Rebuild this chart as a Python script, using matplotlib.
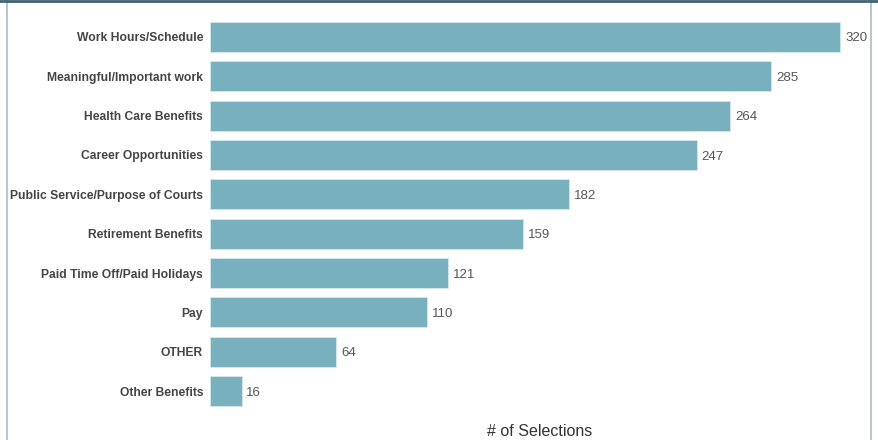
import matplotlib.pyplot as plt
from matplotlib.lines import Line2D

categories = ["Work Hours/Schedule", "Meaningful/Important work", "Health Care Benefits",
              "Career Opportunities", "Public Service/Purpose of Courts", "Retirement Benefits",
              "Paid Time Off/Paid Holidays", "Pay", "OTHER", "Other Benefits"]
counts = [320, 285, 264, 247, 182, 159, 121, 110, 64, 16]

plt.rcParams['font.family'] = ['Liberation Sans', 'DejaVu Sans']

fig = plt.figure(figsize=(8.79, 4.4), dpi=100)
ax = fig.add_axes([210/879, 1 - 414.6/440, 660/879, (414.6-13.4)/440])

y = list(range(len(categories)))
ax.barh(y, counts, height=0.76, color="#78b0be", edgecolor="#d6e8ec", linewidth=0.6)
for yi, v in zip(y, counts):
    ax.text(v + 2.5, yi, str(v), va="center_baseline", ha="left", fontsize=9.5, color="#555555")

ax.set_yticks(y)
ax.set_yticklabels(categories, fontsize=8.7, fontweight="bold", color="#444444")
ax.tick_params(axis="y", length=0, pad=5)
ax.set_xticks([])
ax.set_ylim(9.6, -0.6)
ax.set_xlim(0, 335)
for s in ax.spines.values():
    s.set_visible(False)

fig.text(540/879, 1 - 431/440, "# of Selections", ha="center", va="center",
         fontsize=11.5, color="#333333")

# frame around the panel
fig.add_artist(Line2D([7/879, 7/879], [0, 1], transform=fig.transFigure, color="#a9bcc0", lw=1.2))
fig.add_artist(Line2D([871/879, 871/879], [0, 1], transform=fig.transFigure, color="#a9bcc0", lw=1.2))
fig.add_artist(Line2D([0, 1], [1 - 0.8/440, 1 - 0.8/440], transform=fig.transFigure, color="#3d6470", lw=2))

fig.savefig("out.png", dpi=100)
